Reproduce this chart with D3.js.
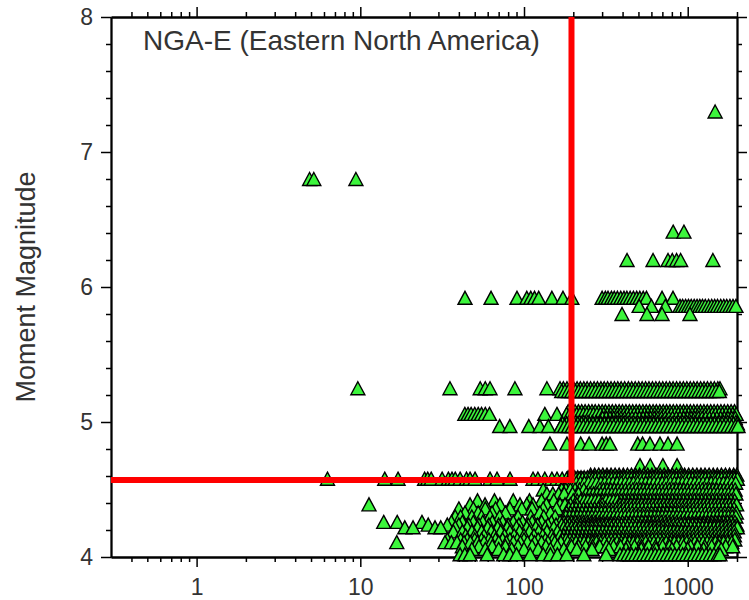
<!DOCTYPE html>
<html lang="en">
<head>
<meta charset="UTF-8">
<title>NGA-E (Eastern North America)</title>
<script src="https://cdn.jsdelivr.net/npm/d3@7"></script>
<style>
	body { margin: 0; background: #ffffff; }
	svg text { font-family: "Liberation Sans", Arial, sans-serif; fill: #333333; }
</style>
</head>
<body>
<svg id="chart" width="749" height="600"></svg>
<script>

// Tick values
var majorX = [1, 10, 100, 1000];
var minorX = [0.4, 0.5, 0.6, 0.7, 0.8, 0.9, 2, 3, 4, 5, 6, 7, 8, 9,
	20, 30, 40, 50, 60, 70, 80, 90, 200, 300, 400, 500, 600, 700, 800, 900, 2000];
var majorY = [4, 5, 6, 7, 8];
var minorY = [4.2, 4.4, 4.6, 4.8, 5.2, 5.4, 5.6, 5.8, 6.2, 6.4, 6.6, 6.8, 7.2, 7.4, 7.6, 7.8];

// Selection corner (red lines)
var cutKm = 195;
var cutMw = 4.57;

// Recordings: distance (km) per magnitude band
var km730 = [1470];
var km680 = [4.9, 5.2, 9.4];
var km641 = [815, 948];
var km620 = [426, 614, 758, 805, 855, 905, 1425];
var km592 = [43.6, 62.9, 90.6, 104, 110, 116, 123, 148, 173, 196, 300, 314, 326, 342, 356, 372,
	390, 408, 425, 445, 466, 488, 510, 535, 560, 697, 813];
var km586 = [505, 600, 730, 897, 930, 970, 1010, 1050, 1095, 1140, 1185, 1230, 1280, 1340, 1400,
	1460, 1520, 1590, 1660, 1730, 1810, 1890, 1970];
var km580 = [397, 564, 697, 1032];
var km525 = [9.66, 35.3, 54, 58, 62, 88, 138, 166, 174, 183, 192, 201, 211, 221, 232, 243, 255,
	268, 281, 295, 309, 324, 340, 357, 374, 392, 412, 434, 455, 478, 502, 527, 553, 580, 609, 639,
	671, 704, 739, 776, 814, 855, 897, 941, 988, 1037, 1088, 1142, 1199, 1258, 1320, 1386, 1455,
	1527, 1574];
var km523 = [170, 178, 187, 196, 206, 216, 226, 237, 249, 261, 274, 288, 302, 316, 332, 348, 365,
	383, 402, 423, 444, 466, 490, 514, 540, 566, 594, 624, 655, 687, 721, 757, 795, 834, 876, 919,
	964, 1012, 1062, 1115, 1170, 1228, 1289, 1353, 1420, 1490, 1560];
var km508 = [186, 195, 205, 215, 225, 236, 248, 260, 272, 286, 300, 314, 330, 346, 363, 381, 399,
	419, 440, 461, 484, 507, 532, 558, 585, 614, 643, 675, 708, 742, 778, 816, 856, 898, 942, 988,
	1037, 1088, 1141, 1196, 1255, 1316, 1381, 1448, 1519, 1594, 1672, 1754, 1840, 1930];
var km506 = [43.5, 45.5, 47.5, 50, 52.5, 55, 58, 61.5, 134, 159, 182, 191, 200, 210, 220, 231,
	242, 254, 266, 279, 293, 307, 322, 338, 355, 372, 390, 409, 429, 450, 472, 495, 519, 545, 571,
	599, 628, 659, 691, 725, 760, 797, 836, 877, 920, 965, 1012, 1062, 1114, 1168, 1225, 1285, 1348,
	1414, 1483, 1556, 1632, 1712, 1796, 1884, 1976];
var km503 = [302, 318, 335, 353, 371, 391, 412, 434, 457, 481, 507, 534, 562, 592, 624, 657, 692,
	729, 768, 809, 852, 897, 945, 995, 1048, 1104, 1163, 1225, 1290, 1359, 1431, 1507, 1587, 1672,
	1761, 1855, 1953];
var km500 = [195, 207, 219, 232, 246, 261, 276, 293, 310, 329, 348, 369, 391, 414, 439, 465, 493,
	522, 553, 586, 621, 658, 697, 738, 782, 829, 878, 930, 985, 1044, 1106, 1172, 1241, 1315, 1393,
	1476, 1564, 1657, 1755, 1860, 1970];
var km499 = [172, 182, 192, 202, 213, 225, 238, 251, 264, 279, 294, 310, 327, 345, 364, 384, 405,
	427, 451, 476, 502, 529, 558, 588, 620, 654, 690, 728, 768, 810, 855, 902, 951, 1003, 1058, 1116,
	1178, 1242, 1310, 1382, 1458, 1538, 1622, 1711, 1805, 1904, 2010];
var km497 = [71, 82, 107, 125, 141, 168, 177, 187, 197, 208, 219, 231, 244, 257, 271, 286, 302,
	318, 336, 354, 374, 394, 416, 439, 463, 488, 515, 543, 573, 604, 637, 672, 709, 748, 789, 832,
	878, 926, 977, 1030, 1087, 1146, 1209, 1276, 1346, 1420, 1497, 1580, 1666, 1758, 1854, 1956, 2030];
var km484 = [144, 183, 222, 250, 300, 318, 335, 495, 530, 588, 677, 758, 861];
var km468 = [511, 590, 705, 861];
var km461 = [255, 270, 286, 303, 321, 340, 360, 381, 404, 428, 453, 480, 508, 538, 570, 604, 640,
	678, 718, 760, 805, 853, 903, 957, 1013, 1073, 1137, 1204, 1275, 1351, 1431, 1515, 1605, 1700,
	1800, 1907, 1995];
var km459 = [186, 195, 204, 213, 223, 233, 244, 256, 268, 280, 293, 307, 321, 336, 352, 368, 386,
	404, 422, 442, 462, 484, 506, 530, 554, 580, 607, 635, 665, 696, 728, 762, 798, 835, 874, 914,
	957, 1001, 1048, 1097, 1148, 1201, 1257, 1316, 1377, 1441, 1508, 1578, 1651, 1728, 1808, 1892, 1980];
var km458 = [6.3, 14.1, 17.0, 24.7, 25.8, 27.1, 31.6, 34.5, 36.3, 38, 40.7, 44.5, 46.8, 50.2, 62,
	68.4, 82.1, 113.5, 121.5, 133.9, 148, 159, 171, 182, 190, 199, 208, 218, 228, 239, 250, 262,
	274, 287, 300, 314, 329, 344, 360, 377, 395, 413, 432, 452, 473, 495, 518, 542, 567, 593, 621,
	650, 680, 712, 745, 780, 816, 854, 894, 935, 979, 1024, 1072, 1122, 1174, 1229, 1286, 1346,
	1408, 1474, 1542, 1614, 1689, 1768, 1850, 1936, 2010];
var km455 = [186, 197, 209, 221, 234, 248, 263, 278, 295, 312, 331, 350, 371, 393, 416, 441, 467,
	495, 524, 555, 588, 623, 660, 699, 740, 784, 830, 879, 931, 986, 1045, 1106, 1172, 1241, 1314,
	1392, 1474, 1561, 1654, 1751, 1855, 1965];
var km450 = [131, 170, 180, 192, 205, 218, 232, 291, 306, 322, 339, 357, 376, 396, 417, 439, 462,
	486, 512, 539, 567, 597, 629, 662, 697, 734, 772, 813, 856, 901, 949, 999, 1051, 1107, 1165,
	1227, 1291, 1359, 1431, 1506, 1586, 1669, 1757, 1850, 1948];
var km447 = [138, 150, 163, 176, 198, 215, 240, 253, 266, 280, 295, 311, 327, 344, 362, 381, 401,
	422, 445, 468, 493, 519, 546, 575, 605, 637, 671, 706, 743, 782, 824, 867, 913, 961, 1011, 1064,
	1121, 1180, 1242, 1307, 1376, 1448, 1525, 1605, 1690, 1779, 1872, 1971];
var km442 = [52, 66, 86, 108, 128, 152, 200, 211, 222, 234, 246, 259, 273, 287, 302, 318, 335, 353,
	372, 391, 412, 434, 457, 481, 506, 533, 561, 591, 622, 655, 690, 726, 765, 805, 848, 893, 940,
	990, 1042, 1097, 1155, 1216, 1281, 1348, 1420, 1495, 1574, 1657, 1745, 1837, 1934];
var km439 = [11.3, 46.8, 57.8, 71.3, 94.5, 104, 113.5, 137, 166, 178, 192, 210, 300, 386, 406, 428,
	450, 474, 499, 525, 553, 582, 613, 645, 679, 715, 753, 793, 835, 879, 925, 974, 1025, 1080,
	1137, 1197, 1260, 1327, 1397, 1471, 1549, 1630, 1717, 1807, 1903, 1990];
var km436 = [40, 49, 58, 67, 82, 97, 112, 131, 158, 188, 198, 208, 219, 231, 243, 256, 270, 284,
	299, 315, 332, 349, 368, 387, 408, 429, 452, 476, 501, 528, 556, 585, 616, 649, 683, 719, 757,
	797, 840, 884, 931, 980, 1032, 1087, 1144, 1205, 1269, 1336, 1407, 1481, 1560, 1642, 1729, 1821, 1917];
var km433 = [43.6, 52.5, 63.8, 77, 125, 145, 182, 192, 203, 214, 226, 239, 252, 266, 281, 297, 313,
	331, 349, 369, 389, 411, 434, 458, 484, 511, 539, 569, 601, 635, 670, 707, 747, 788, 832, 879,
	928, 979, 1034, 1092, 1152, 1217, 1284, 1356, 1432, 1511, 1596, 1685, 1778, 1878, 1982];
var km430 = [38, 41, 48, 55, 62, 71, 92, 110, 132, 155, 180, 190, 200, 211, 222, 234, 247, 260, 274,
	289, 304, 320, 337, 355, 374, 394, 415, 437, 461, 485, 511, 538, 567, 597, 629, 662, 698, 735,
	774, 815, 859, 904, 952, 1003, 1056, 1113, 1172, 1234, 1300, 1369, 1442, 1519, 1600, 1685, 1774,
	1869, 1968];
var km426 = [13.9, 16.8, 23.8, 36, 42, 49, 56, 64, 74, 86, 98, 112, 128, 147, 166, 176, 186, 196,
	207, 219, 231, 244, 258, 272, 288, 304, 321, 339, 358, 378, 399, 422, 445, 470, 497, 525, 554,
	585, 618, 653, 689, 728, 769, 812, 857, 905, 956, 1010, 1066, 1126, 1189, 1256, 1326, 1401,
	1479, 1562, 1650, 1742, 1840, 1943];
var km424 = [26, 34, 40, 46, 53, 61, 70, 80, 93, 106, 121, 140, 157, 170, 179, 189, 199, 210, 221,
	233, 246, 259, 273, 288, 303, 320, 337, 355, 374, 394, 415, 438, 461, 486, 512, 540, 569, 599,
	631, 665, 701, 739, 778, 820, 864, 911, 960, 1011, 1066, 1123, 1183, 1247, 1314, 1384, 1459,
	1537, 1620, 1707, 1798, 1895, 1996];
var km422 = [18.7, 21.0, 28.6, 31, 38, 45, 52, 60, 69, 79, 90, 104, 118, 135, 152, 175, 185, 196,
	207, 219, 232, 245, 259, 274, 290, 306, 324, 342, 362, 383, 405, 428, 452, 478, 506, 535, 565,
	598, 632, 668, 706, 747, 789, 835, 882, 933, 986, 1043, 1102, 1165, 1232, 1302, 1377, 1455,
	1538, 1626, 1719, 1817, 1921, 2010];
var km419 = [37, 42, 48, 55, 63, 72, 82, 94, 108, 123, 138, 160, 178, 188, 198, 209, 220, 232, 245,
	258, 272, 287, 303, 319, 336, 355, 374, 394, 416, 438, 462, 487, 514, 541, 571, 602, 634, 669,
	705, 743, 784, 826, 871, 918, 968, 1020, 1076, 1134, 1196, 1260, 1329, 1401, 1477, 1557, 1641,
	1730, 1824, 1923];
var km416 = [44, 50, 57, 66, 76, 87, 100, 115, 130, 148, 166, 175, 184, 194, 204, 215, 227, 239,
	252, 265, 279, 294, 310, 327, 344, 363, 382, 403, 424, 447, 471, 496, 523, 551, 580, 611, 644,
	679, 715, 753, 794, 836, 881, 928, 978, 1030, 1086, 1144, 1205, 1270, 1338, 1410, 1485, 1565,
	1649, 1737, 1830, 1928];
var km413 = [34, 41, 45, 50, 55, 61, 67, 74, 82, 91, 100, 111, 122, 135, 150, 172, 181, 191, 201,
	212, 224, 236, 249, 262, 276, 291, 307, 324, 341, 360, 379, 400, 421, 444, 468, 493, 520, 548,
	578, 609, 642, 677, 713, 752, 792, 835, 880, 928, 978, 1031, 1087, 1145, 1207, 1273, 1341, 1414,
	1490, 1571, 1656, 1745, 1840, 1939];
var km411 = [16.7, 32.9, 36, 39, 43, 47, 52, 57, 63, 70, 78, 86, 95, 105, 116, 128, 140, 154, 168,
	185, 196, 208, 220, 233, 247, 262, 277, 294, 311, 330, 349, 370, 392, 415, 440, 466, 494, 523,
	554, 587, 622, 659, 698, 739, 783, 830, 879, 931, 986, 1045, 1107, 1172, 1242, 1315, 1393, 1476,
	1563, 1656, 1754, 1858];
var km408 = [42, 53, 64, 77, 92, 112, 136, 160, 195, 215, 238, 262, 290, 320, 352, 389, 429, 473,
	522, 576, 636, 702, 775, 855, 944, 1042, 1150, 1269, 1401, 1546, 1706, 1883];
var km406 = [48, 58, 70, 84, 100, 122, 145, 175, 210, 260, 330, 420, 520, 640, 800, 1000, 1250, 1600];
var km402 = [40.7, 43.5, 46.8, 59.6, 75, 82, 90, 109, 131, 145, 160, 182, 232, 317, 386, 408, 431,
	455, 481, 508, 537, 567, 599, 633, 669, 707, 747, 789, 834, 881, 931, 984, 1040, 1099, 1161,
	1227, 1296, 1370, 1447, 1529, 1574];

var bands = [
	[7.30, km730], [6.80, km680], [6.41, km641], [6.20, km620], [5.92, km592], [5.86, km586],
	[5.80, km580], [5.25, km525], [5.23, km523], [5.08, km508], [5.06, km506], [5.03, km503],
	[5.00, km500], [4.99, km499], [4.97, km497], [4.84, km484], [4.68, km468], [4.61, km461],
	[4.59, km459], [4.58, km458], [4.55, km455], [4.50, km450], [4.47, km447], [4.42, km442],
	[4.39, km439], [4.36, km436], [4.33, km433], [4.30, km430], [4.26, km426], [4.24, km424],
	[4.22, km422], [4.19, km419], [4.16, km416], [4.13, km413], [4.11, km411], [4.08, km408],
	[4.06, km406], [4.02, km402]
];

var points = [];
bands.forEach(function(b) {
	b[1].forEach(function(km) { points.push({ km: km, mw: b[0] }); });
});

var svg = d3.select("#chart");

var x = d3.scaleLog().domain([0.3, 2000]).range([111, 737]);
var y = d3.scaleLinear().domain([4, 8]).range([557, 17]);

// Style a drawn axis group
function styleAxis(g) {
	g.attr("font-family", null).attr("font-size", null);
	g.selectAll("line").attr("stroke", "#000").attr("stroke-width", 1.5);
	g.selectAll("path.domain").attr("stroke", "#000").attr("stroke-width", 1.8);
	g.selectAll("text").style("font-size", "23px").attr("fill", "#333");
}

// Bottom axis
svg.append("g")
	.attr("transform", "translate(0,557)")
	.call(d3.axisBottom(x).tickValues(minorX).tickSize(5).tickSizeOuter(0).tickFormat(""))
	.call(styleAxis);
svg.append("g")
	.attr("transform", "translate(0,557)")
	.call(d3.axisBottom(x).tickValues(majorX).tickSize(10).tickSizeOuter(0)
		.tickPadding(12).tickFormat(d3.format("d")))
	.call(styleAxis);

// Top axis
svg.append("g")
	.attr("transform", "translate(0,17)")
	.call(d3.axisTop(x).tickValues(minorX).tickSize(5).tickSizeOuter(0).tickFormat(""))
	.call(styleAxis);
svg.append("g")
	.attr("transform", "translate(0,17)")
	.call(d3.axisTop(x).tickValues(majorX).tickSize(10).tickSizeOuter(0).tickFormat(""))
	.call(styleAxis);

// Left axis
svg.append("g")
	.attr("transform", "translate(111,0)")
	.call(d3.axisLeft(y).tickValues(minorY).tickSize(5).tickSizeOuter(0).tickFormat(""))
	.call(styleAxis);
svg.append("g")
	.attr("transform", "translate(111,0)")
	.call(d3.axisLeft(y).tickValues(majorY).tickSize(10).tickSizeOuter(0)
		.tickPadding(8).tickFormat(d3.format("d")))
	.call(styleAxis);

// Right axis
svg.append("g")
	.attr("transform", "translate(737,0)")
	.call(d3.axisRight(y).tickValues(minorY).tickSize(5).tickSizeOuter(0).tickFormat(""))
	.call(styleAxis);
svg.append("g")
	.attr("transform", "translate(737,0)")
	.call(d3.axisRight(y).tickValues(majorY).tickSize(10).tickSizeOuter(0).tickFormat(""))
	.call(styleAxis);

// Triangles
svg.append("g").selectAll("path")
	.data(points)
	.enter()
	.append("path")
	.attr("d", "M0,-6.5L7,6.5L-7,6.5Z")
	.attr("transform", function(d) { return "translate(" + x(d.km) + "," + y(d.mw) + ")"; })
	.attr("fill", "#3cf53c")
	.attr("stroke", "#000")
	.attr("stroke-width", 1.4)
	.attr("stroke-linejoin", "miter");

// Red selection lines
var line = d3.line()
	.x(function(d) { return x(d[0]); })
	.y(function(d) { return y(d[1]); });

svg.append("path")
	.attr("d", line([[0.3, cutMw], [cutKm, cutMw], [cutKm, 8]]))
	.attr("fill", "none")
	.attr("stroke", "#ff0000")
	.attr("stroke-width", 6)
	.attr("stroke-linejoin", "miter");

// Title
svg.append("text")
	.attr("x", 143)
	.attr("y", 50)
	.style("font-size", "28px")
	.text("NGA-E (Eastern North America)");

// Y axis label
svg.append("text")
	.attr("transform", "translate(35,287) rotate(-90)")
	.attr("text-anchor", "middle")
	.style("font-size", "27px")
	.text("Moment Magnitude");

</script>
</body>
</html>
